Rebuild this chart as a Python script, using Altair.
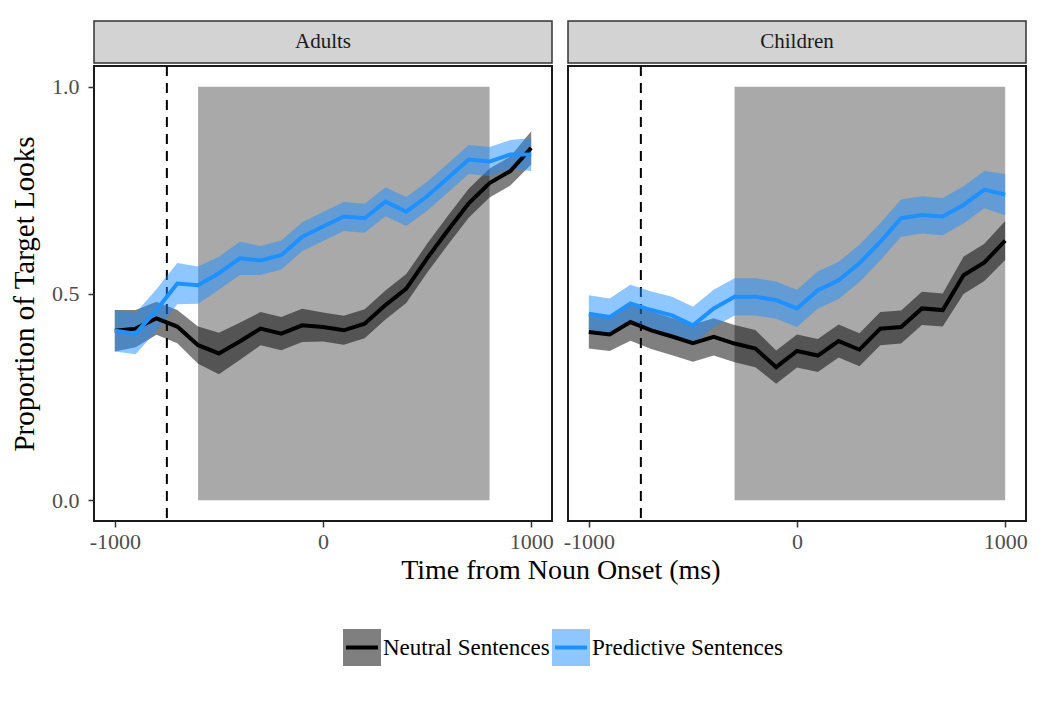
import altair as alt
import pandas as pd

FONT = "Liberation Serif"

# ---- data ----
times = [-1000, -900, -800, -700, -600, -500, -400, -300, -200, -100, 0,
         100, 200, 300, 400, 500, 600, 700, 800, 900, 1000]

conditions = ["Neutral Sentences", "Predictive Sentences"]
line_colors = ["#000000", "#1E90FF"]

adults_neutral = [0.41, 0.415, 0.44, 0.42, 0.375, 0.355, 0.384, 0.415, 0.403, 0.423, 0.419,
                  0.411, 0.427, 0.472, 0.512, 0.585, 0.653, 0.718, 0.767, 0.796, 0.852]
adults_neutral_se = [0.05, 0.045, 0.04, 0.04, 0.045, 0.05, 0.045, 0.04, 0.04, 0.04, 0.035,
                     0.035, 0.035, 0.035, 0.035, 0.035, 0.035, 0.035, 0.035, 0.035, 0.04]
adults_predictive = [0.41, 0.403, 0.46, 0.524, 0.52, 0.549, 0.585, 0.58, 0.593, 0.637, 0.662,
                     0.686, 0.682, 0.722, 0.698, 0.735, 0.779, 0.824, 0.819, 0.836, 0.836]
adults_predictive_se = [0.05, 0.05, 0.05, 0.05, 0.045, 0.04, 0.04, 0.035, 0.035, 0.035, 0.035,
                        0.035, 0.035, 0.035, 0.035, 0.035, 0.035, 0.035, 0.035, 0.035, 0.04]

children_neutral = [0.407, 0.401, 0.431, 0.411, 0.396, 0.38, 0.395, 0.379, 0.367, 0.322, 0.361,
                    0.35, 0.385, 0.364, 0.415, 0.419, 0.464, 0.46, 0.544, 0.575, 0.628]
children_neutral_se = [0.04, 0.04, 0.045, 0.045, 0.045, 0.045, 0.045, 0.045, 0.045, 0.04, 0.04,
                       0.04, 0.04, 0.04, 0.04, 0.04, 0.04, 0.04, 0.045, 0.045, 0.047]
children_predictive = [0.451, 0.443, 0.476, 0.46, 0.447, 0.423, 0.464, 0.492, 0.492, 0.484, 0.464,
                       0.508, 0.532, 0.573, 0.625, 0.682, 0.69, 0.686, 0.714, 0.751, 0.739]
children_predictive_se = [0.045] * 20 + [0.05]

groups = ["Adults", "Children"]
window_start = [-600, -300]
window_end = [800, 1000]
window_low = [0.0, 0.0]
window_high = [1.0, 1.0]
marker_time = [-750, -750]

x_ticks = [-1000, 0, 1000]
y_ticks = [0.0, 0.5, 1.0]

PANEL_W = 458
PANEL_H = 455
STRIP_H = 42


def build_df(neutral, n_se, predictive, p_se):
    rows = []
    for cond, vals, ses in [(conditions[0], neutral, n_se), (conditions[1], predictive, p_se)]:
        for t, v, s in zip(times, vals, ses):
            rows.append({"time": t, "cond": cond, "mean": v, "lo": v - s, "hi": v + s})
    return pd.DataFrame(rows)


xs = alt.Scale(domain=[-1100, 1100], nice=False, zero=False)
ys = alt.Scale(domain=[-0.05, 1.05], nice=False, zero=False)
color_scale = alt.Scale(domain=conditions, range=line_colors)

x_axis = alt.Axis(values=x_ticks, labelExpr="'' + datum.value", title=None, grid=False,
                  domain=False, tickSize=6, tickWidth=1.5, tickColor="#333333",
                  labelFont=FONT, labelFontSize=22, labelColor="#4d4d4d", labelPadding=4)


def y_axis(show):
    if not show:
        return None
    return alt.Axis(values=y_ticks, format=".1f", title="Proportion of Target Looks", grid=False,
                    domain=False, tickSize=6, tickWidth=1.5, tickColor="#333333",
                    labelFont=FONT, labelFontSize=22, labelColor="#4d4d4d", labelPadding=9,
                    titleFont=FONT, titleFontSize=29, titleFontWeight="normal",
                    titleColor="#000000", titlePadding=12)


def panel(i, neutral, n_se, predictive, p_se, show_y):
    df = build_df(neutral, n_se, predictive, p_se)
    yax = y_axis(show_y)
    win = pd.DataFrame({"x0": [window_start[i]], "x1": [window_end[i]],
                        "y0": [window_low[i]], "y1": [window_high[i]]})
    vdf = pd.DataFrame({"t": [marker_time[i]]})

    rect = alt.Chart(win).mark_rect(color="#a9a9a9").encode(
        x=alt.X("x0:Q", scale=xs, axis=x_axis), x2="x1:Q",
        y=alt.Y("y0:Q", scale=ys, axis=yax), y2="y1:Q")
    vline = alt.Chart(vdf).mark_rule(strokeDash=[10, 7], strokeWidth=2, color="#000000").encode(
        x=alt.X("t:Q", scale=xs, axis=x_axis))
    band = alt.Chart(df).mark_area(opacity=0.5).encode(
        x=alt.X("time:Q", scale=xs, axis=x_axis),
        y=alt.Y("lo:Q", scale=ys, axis=yax), y2="hi:Q",
        color=alt.Color("cond:N", scale=color_scale, legend=None))
    line = alt.Chart(df).mark_line(strokeWidth=4).encode(
        x=alt.X("time:Q", scale=xs, axis=x_axis),
        y=alt.Y("mean:Q", scale=ys, axis=yax),
        color=alt.Color("cond:N", scale=color_scale, legend=None))
    plot = alt.layer(rect, vline, band, line).properties(
        width=PANEL_W, height=PANEL_H,
        view=alt.ViewBackground(fill="white", stroke="#1a1a1a", strokeWidth=2))

    strip = alt.Chart(pd.DataFrame({"label": [groups[i]]})).mark_text(
        font=FONT, fontSize=21, color="#1a1a1a", align="center", baseline="middle").encode(
        text="label:N").properties(
        width=PANEL_W, height=STRIP_H,
        view=alt.ViewBackground(fill="#d3d3d3", stroke="#333333", strokeWidth=1.5))
    return alt.vconcat(strip, plot, spacing=0)


left = panel(0, adults_neutral, adults_neutral_se, adults_predictive, adults_predictive_se, True)
right = panel(1, children_neutral, children_neutral_se, children_predictive, children_predictive_se, False)

top = alt.hconcat(left, right, spacing=7).properties(
    title=alt.TitleParams("Time from Noun Onset (ms)", orient="bottom", anchor="middle",
                          font=FONT, fontSize=28, fontWeight="normal", color="#000000",
                          offset=4, dx=42))

# ---- legend built as a small chart (origin = left edge of the Adults panel) ----
legend_fill = ["#000000", "#1E90FF"]
legend_layers = []
legend_x = [249, 458]
for k, name in enumerate(conditions):
    x0 = legend_x[k]
    ldf = pd.DataFrame({"label": [name]})
    box = alt.Chart(ldf).mark_rect(color=legend_fill[k], opacity=0.5).encode(
        x=alt.value(x0), x2=alt.value(x0 + 38), y=alt.value(0), y2=alt.value(37))
    key = alt.Chart(ldf).mark_rule(color=line_colors[k], strokeWidth=4).encode(
        x=alt.value(x0 + 3), x2=alt.value(x0 + 35), y=alt.value(18.5))
    txt = alt.Chart(ldf).mark_text(font=FONT, fontSize=23, color="#000000", align="left",
                                   baseline="middle").encode(
        x=alt.value(x0 + 40), y=alt.value(18.5), text="label:N")
    legend_layers += [box, key, txt]

legend = alt.layer(*legend_layers).properties(
    width=700, height=37, view=alt.ViewBackground(stroke=None))

chart = alt.vconcat(top, legend, spacing=44).properties(
    padding={"left": 1, "top": 12, "right": 5, "bottom": 5},
    background="white")

chart.save("out.html", embed_options={"renderer": "svg", "actions": False})
